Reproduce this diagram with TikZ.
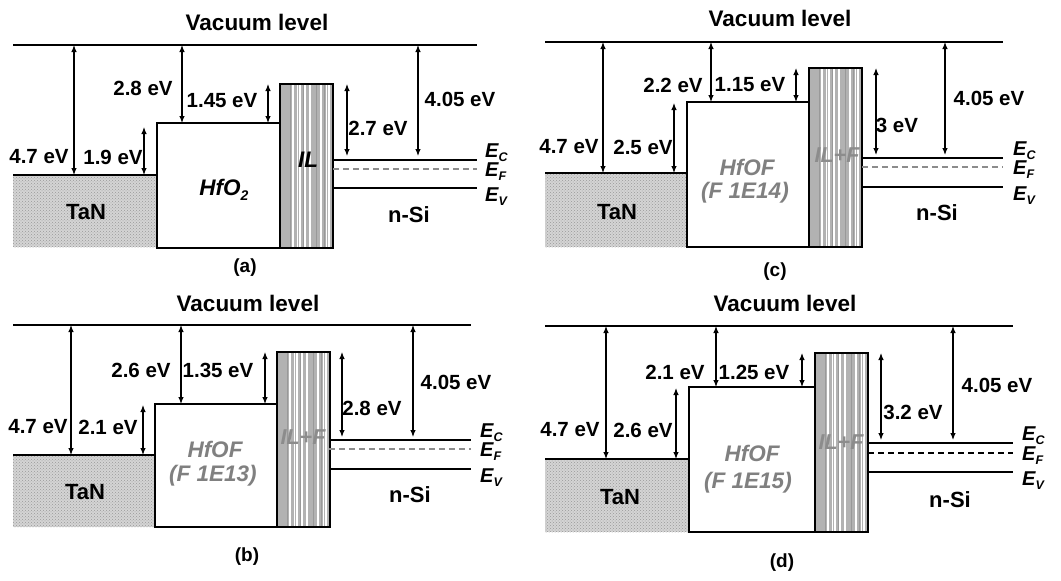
\documentclass[tikz,border=0pt]{standalone}
\usepackage{fontspec}
\setmainfont{Liberation Sans}
\usetikzlibrary{arrows.meta,patterns}
\tikzset{
 lbl/.style={font=\fontsize{20.5}{24}\selectfont\bfseries, inner sep=0pt},
 vac/.style={font=\fontsize{22.5}{26}\selectfont\bfseries, inner sep=0pt},
 capt/.style={font=\fontsize{19}{22}\selectfont\bfseries, inner sep=0pt},
 big/.style={font=\fontsize{22}{26}\selectfont\bfseries, inner sep=0pt},
 oxl/.style={font=\fontsize{22.5}{26}\selectfont\bfseries\itshape, text=black!50, inner sep=0pt},
 hfl/.style={font=\fontsize{22.5}{26}\selectfont\bfseries\itshape, inner sep=0pt},
 ill/.style={font=\fontsize{21.5}{26}\selectfont\bfseries\itshape, text=black!45, inner sep=0pt},
 elbl/.style={font=\fontsize{20}{24}\selectfont\bfseries\itshape, inner sep=0pt, anchor=base west},
 level/.style={line width=1.6pt},
 box/.style={draw, line width=1.6pt},
 tanfill/.style={fill=black!17, postaction={pattern=crosshatch dots, pattern color=black!40}},
 dim/.style={{Latex[length=7pt,width=5.5pt]}-{Latex[length=7pt,width=5.5pt]}, line width=1.1pt},
 fermi/.style={line width=1.6pt, dash pattern=on 6pt off 4pt, draw=black!45},
}
\newcommand\ILbox[3]{%
  \fill[black!30] (#1,#2) rectangle ({#1+53},#3);
  \foreach \o/\w in {13/1.4,17/1,20/1.6,25/1.1,30/1.4,41/1.6,46/1,49/1.6}
    \draw[white, line width=\w pt] ({#1+\o},#2) -- ({#1+\o},#3);
  \foreach \o in {10,23,36,44}
    \draw[black!40, line width=0.7pt] ({#1+\o},#2) -- ({#1+\o},#3);
  \draw[box] (#1,#2) rectangle ({#1+53},#3);
}
\newcommand\Esub[1]{E\smash{\raisebox{-4pt}{\fontsize{12.5}{12.5}\selectfont #1}}}
\begin{document}
\begin{tikzpicture}[x=1pt,y=-1pt]
\useasboundingbox (0,0) rectangle (1061,581);
\fill[white] (0,0) rectangle (1061,581);

% ================= panel (a) =================
\node[vac] (a-vac) at (257,22) {Vacuum level};
\draw[level] (13,45) -- (477,45);
\fill[tanfill] (13,175) rectangle (157,247);
\draw[level] (13,175) -- (157,175);
\draw[box] (157,123) rectangle (280,248);
\ILbox{280}{84}{248}
\draw[level] (333,160) -- (477,160);
\draw[fermi] (333,169) -- (477,169);
\draw[level] (333,188) -- (477,188);
\draw[dim] (74,45) -- (74,175);
\draw[dim] (182,45) -- (182,123);
\draw[dim] (268,84) -- (268,123);
\draw[dim] (144,127) -- (144,175);
\draw[dim] (347,84) -- (347,156);
\draw[dim] (418,45) -- (418,156);
\node[lbl] (a-28) at (143,88) {2.8 eV};
\node[lbl] (a-145) at (222,101) {1.45 eV};
\node[lbl] (a-47) at (39,157) {4.7 eV};
\node[lbl] (a-19) at (113,157) {1.9 eV};
\node[lbl] (a-27) at (378,128) {2.7 eV};
\node[lbl] (a-405) at (460,99) {4.05 eV};
\node[hfl, anchor=base] (a-hfo) at (224,195) {HfO\raisebox{-5pt}{\fontsize{14}{14}\selectfont 2}};
\node[hfl] (a-il) at (308,160) {IL};
\node[big] (a-tan) at (86,212) {TaN};
\node[big] (a-si) at (409,215) {n-Si};
\node[elbl] (a-ec) at (485,157) {\Esub{C}};
\node[elbl] (a-ef) at (485,176) {\Esub{F}};
\node[elbl] (a-ev) at (485,201) {\Esub{V}};
\node[capt] (a-cap) at (245,268) {(a)};

% ================= panel (c) =================
\node[vac] (c-vac) at (780,18) {Vacuum level};
\draw[level] (545,42) -- (1003,42);
\fill[tanfill] (545,173) rectangle (687,247);
\draw[level] (545,173) -- (687,173);
\draw[box] (687,102) rectangle (809,247);
\ILbox{809}{68}{247}
\draw[level] (862,158) -- (1003,158);
\draw[fermi] (862,167) -- (1003,167);
\draw[level] (862,187) -- (1003,187);
\draw[dim] (603,42) -- (603,173);
\draw[dim] (711,42) -- (711,102);
\draw[dim] (796,68) -- (796,102);
\draw[dim] (674,103) -- (674,173);
\draw[dim] (876,68) -- (876,155);
\draw[dim] (945,42) -- (945,155);
\node[lbl] (c-22) at (673,85) {2.2 eV};
\node[lbl] (c-115) at (750,85) {1.15 eV};
\node[lbl] (c-47) at (569,147) {4.7 eV};
\node[lbl] (c-25) at (643,147) {2.5 eV};
\node[lbl] (c-3) at (897,125) {3 eV};
\node[lbl] (c-405) at (989,98) {4.05 eV};
\node[oxl] (c-hf) at (747,167) {HfOF};
\node[oxl] (c-f) at (745,193) {(F 1E14)};
\node[ill] (c-il) at (837,155) {IL+F};
\node[big] (c-tan) at (617,212) {TaN};
\node[big] (c-si) at (937,213) {n-Si};
\node[elbl] (c-ec) at (1013,155) {\Esub{C}};
\node[elbl] (c-ef) at (1013,174) {\Esub{F}};
\node[elbl] (c-ev) at (1013,200) {\Esub{V}};
\node[capt] (c-cap) at (775,272) {(c)};

% ================= panel (b) =================
\node[vac] (b-vac) at (248,303) {Vacuum level};
\draw[level] (13,325) -- (471,325);
\fill[tanfill] (13,455) rectangle (155,527);
\draw[level] (13,455) -- (155,455);
\draw[box] (155,404) rectangle (277,527);
\ILbox{277}{352}{527}
\draw[level] (329,440) -- (471,440);
\draw[fermi] (329,449) -- (471,449);
\draw[level] (329,469) -- (471,469);
\draw[dim] (71,325) -- (71,455);
\draw[dim] (181,325) -- (181,404);
\draw[dim] (265,352) -- (265,404);
\draw[dim] (143,405) -- (143,455);
\draw[dim] (342,352) -- (342,437);
\draw[dim] (413,325) -- (413,437);
\node[lbl] (b-26) at (141,370) {2.6 eV};
\node[lbl] (b-135) at (218,370) {1.35 eV};
\node[lbl] (b-47) at (38,427) {4.7 eV};
\node[lbl] (b-21) at (108,427) {2.1 eV};
\node[lbl] (b-28) at (372,408) {2.8 eV};
\node[lbl] (b-405) at (456,382) {4.05 eV};
\node[oxl] (b-hf) at (215,449) {HfOF};
\node[oxl] (b-f) at (213,476) {(F 1E13)};
\node[ill] (b-il) at (303,437) {IL+F};
\node[big] (b-tan) at (85,492) {TaN};
\node[big] (b-si) at (410,495) {n-Si};
\node[elbl] (b-ec) at (480,437) {\Esub{C}};
\node[elbl] (b-ef) at (480,456) {\Esub{F}};
\node[elbl] (b-ev) at (480,482) {\Esub{V}};
\node[capt] (b-cap) at (247,557) {(b)};

% ================= panel (d) =================
\node[vac] (d-vac) at (785,303) {Vacuum level};
\draw[level] (545,326) -- (1013,326);
\fill[tanfill] (545,459) rectangle (689,532);
\draw[level] (545,459) -- (689,459);
\draw[box] (689,387) rectangle (815,532);
\ILbox{815}{353}{532}
\draw[level] (868,443) -- (1013,443);
\draw[fermi, draw=black] (868,453) -- (1013,453);
\draw[level] (868,472) -- (1013,472);
\draw[dim] (606,326) -- (606,459);
\draw[dim] (716,326) -- (716,387);
\draw[dim] (802,353) -- (802,387);
\draw[dim] (676,388) -- (676,459);
\draw[dim] (881,353) -- (881,440);
\draw[dim] (953,326) -- (953,440);
\node[lbl] (d-21) at (675,372) {2.1 eV};
\node[lbl] (d-125) at (754,372) {1.25 eV};
\node[lbl] (d-47) at (570,430) {4.7 eV};
\node[lbl] (d-26) at (643,430) {2.6 eV};
\node[lbl] (d-32) at (913,412) {3.2 eV};
\node[lbl] (d-405) at (997,385) {4.05 eV};
\node[oxl] (d-hf) at (752,453) {HfOF};
\node[oxl] (d-f) at (748,483) {(F 1E15)};
\node[ill] (d-il) at (841,442) {IL+F};
\node[big] (d-tan) at (620,497) {TaN};
\node[big] (d-si) at (950,500) {n-Si};
\node[elbl] (d-ec) at (1022,440) {\Esub{C}};
\node[elbl] (d-ef) at (1022,460) {\Esub{F}};
\node[elbl] (d-ev) at (1022,485) {\Esub{V}};
\node[capt] (d-cap) at (782,563) {(d)};
\end{tikzpicture}
\end{document}
